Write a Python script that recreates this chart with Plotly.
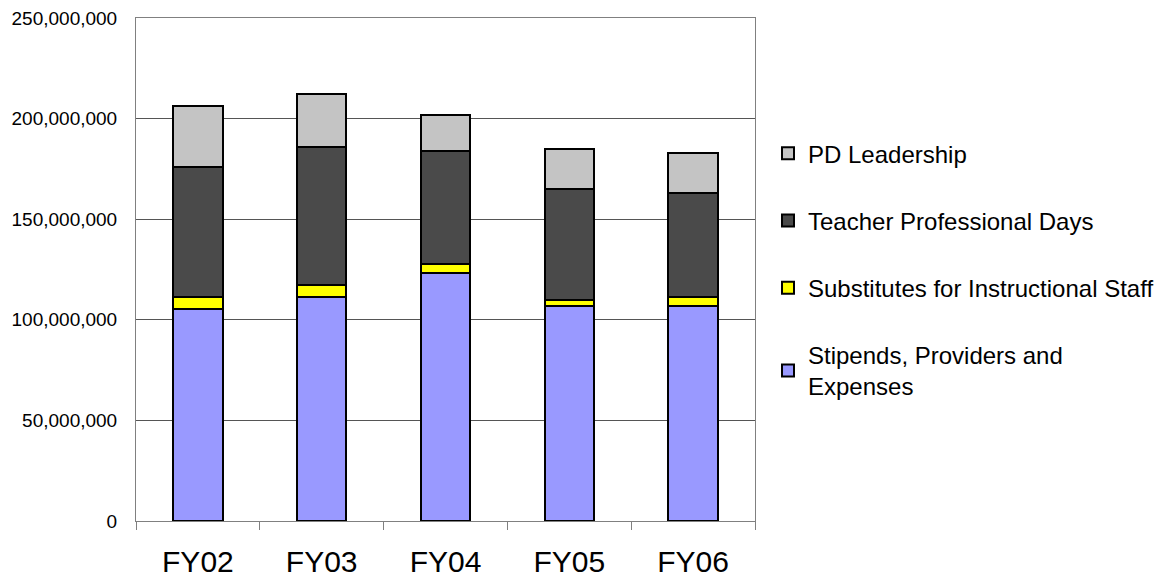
import plotly.graph_objects as go

categories = ["FY02", "FY03", "FY04", "FY05", "FY06"]
stipends = [105.4e6, 111.3e6, 123.2e6, 106.7e6, 106.7e6]
substitutes = [5.9e6, 5.8e6, 4.5e6, 3.3e6, 4.6e6]
teacher_days = [64.6e6, 69.0e6, 56.3e6, 55.2e6, 51.9e6]
pd_leadership = [30.5e6, 26.2e6, 17.8e6, 19.9e6, 19.9e6]

series = [
    ("Stipends, Providers and<br>Expenses", stipends, "#9999FF"),
    ("Substitutes for Instructional Staff", substitutes, "#FFFF00"),
    ("Teacher Professional Days", teacher_days, "#4A4A4A"),
    ("PD Leadership", pd_leadership, "#C4C4C4"),
]

fig = go.Figure()
for i, (name, vals, color) in enumerate(series):
    fig.add_trace(go.Bar(
        x=categories, y=vals, name=name, legendgroup=f"g{i}",
        legendrank=100 - i,
        marker=dict(color=color, line=dict(color="#000000", width=2)),
    ))

fig.update_layout(
    barmode="stack",
    bargap=0.6,
    width=1173, height=582,
    margin=dict(l=128, r=426, t=10, b=69, autoexpand=False),
    paper_bgcolor="white", plot_bgcolor="white",
    font=dict(family="Liberation Sans, Arial, sans-serif", color="#000000"),
    legend=dict(
        x=1.021, xanchor="left", y=0.775, yanchor="top",
        traceorder="grouped", tracegroupgap=33,
        font=dict(size=24, color="#000000"),
        bgcolor="rgba(0,0,0,0)",
    ),
    showlegend=True,
)
fig.update_xaxes(
    showline=True, linecolor="#808080", linewidth=1, mirror=True,
    ticks="outside", tickson="boundaries", ticklen=8, tickcolor="#808080",
    tickfont=dict(size=30), ticklabelstandoff=14,
    showgrid=False, automargin=False,
)
fig.update_yaxes(
    range=[0, 250e6], dtick=50e6, tickformat=",d",
    showline=True, linecolor="#808080", linewidth=1, mirror=True,
    showgrid=True, gridcolor="#555555", gridwidth=1,
    ticks="", tickfont=dict(size=19), ticklabelstandoff=14,
    ticklabeloverflow="allow",
    zeroline=False, automargin=False,
)

fig.write_html("out.html")
